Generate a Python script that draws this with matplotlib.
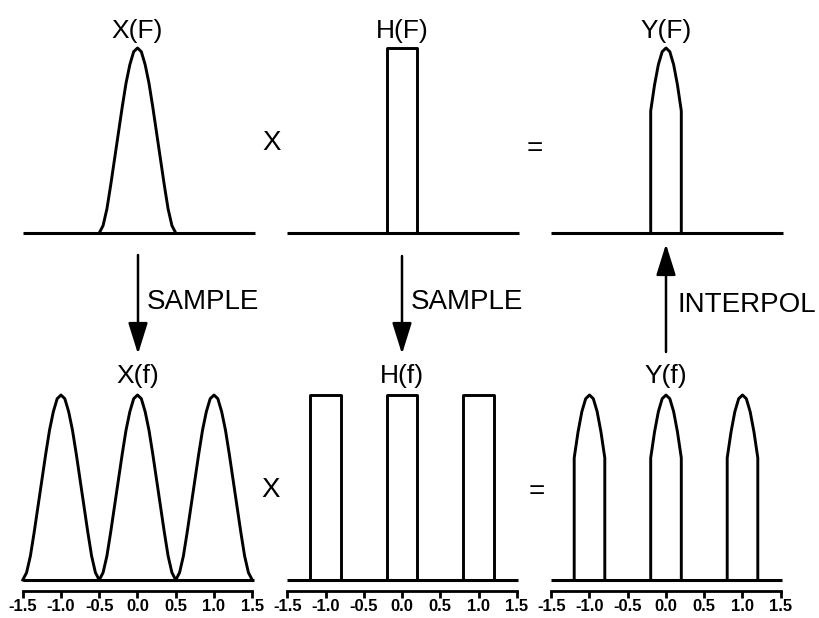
import numpy as np
import matplotlib
matplotlib.use("Agg")
import matplotlib.pyplot as plt

plt.rcParams['font.family'] = ['Liberation Sans', 'DejaVu Sans']

# Spectrum shapes (frequency, amplitude)
pulse_f = [-0.5, -0.45, -0.4, -0.35, -0.3, -0.25, -0.2, -0.15, -0.1, -0.05, 0.0,
           0.05, 0.1, 0.15, 0.2, 0.25, 0.3, 0.35, 0.4, 0.45, 0.5]
pulse_x = [0.0, 0.04, 0.13, 0.26, 0.40, 0.54, 0.68, 0.81, 0.91, 0.98, 1.0,
           0.98, 0.91, 0.81, 0.68, 0.54, 0.40, 0.26, 0.13, 0.04, 0.0]

rect_f = [-0.2, -0.2, 0.2, 0.2]
rect_h = [0.0, 1.0, 1.0, 0.0]

prod_f = [-0.2, -0.2, -0.15, -0.1, -0.05, 0.0, 0.05, 0.1, 0.15, 0.2, 0.2]
prod_y = [0.0, 0.66, 0.80, 0.91, 0.98, 1.0, 0.98, 0.91, 0.80, 0.66, 0.0]

# sampled spectra repeat with period 1
periods = [-1.0, 0.0, 1.0]
tick_vals = [-1.5, -1.0, -0.5, 0.0, 0.5, 1.0, 1.5]
tick_labels = ['-1.5', '-1.0', '-0.5', '0.0', '0.5', '1.0', '1.5']

top_titles = ['X(F)', 'H(F)', 'Y(F)']
bottom_titles = ['X(f)', 'H(f)', 'Y(f)']
shapes = [(pulse_f, pulse_x), (rect_f, rect_h), (prod_f, prod_y)]

W, H = 820, 618
fig = plt.figure(figsize=(W / 100, H / 100), dpi=100)

col_centers = [137.5, 402, 666]
px_per_unit = 76.5
xlim = (-1.6, 1.6)
ylim = (-0.1, 1.15)
py_per_unit = 185


def make_axes(cx, baseline_px):
    left = cx + xlim[0] * px_per_unit
    width = (xlim[1] - xlim[0]) * px_per_unit
    bottom = baseline_px - ylim[0] * py_per_unit
    height = (ylim[1] - ylim[0]) * py_per_unit
    ax = fig.add_axes([left / W, 1 - bottom / H, width / W, height / H])
    ax.set_xlim(*xlim)
    ax.set_ylim(*ylim)
    for s in ['top', 'right', 'left', 'bottom']:
        ax.spines[s].set_visible(False)
    ax.set_xticks([])
    ax.set_yticks([])
    ax.patch.set_alpha(0)
    return ax


lw = 2.1
for i, cx in enumerate(col_centers):
    f, a = shapes[i]

    # continuous spectra (top row)
    ax = make_axes(cx, 233)
    ax.plot(f, a, color='black', lw=lw, solid_joinstyle='round')
    ax.hlines(0, -1.5, 1.53, color='black', lw=2.2)
    ax.text(0, 1.09, top_titles[i], ha='center', va='center', fontsize=19)

    # sampled spectra (bottom row)
    ax = make_axes(cx, 580)
    for p in periods:
        ax.plot(np.add(f, p), a, color='black', lw=lw, solid_joinstyle='round')
    ax.hlines(0, -1.5, 1.52, color='black', lw=2.2)
    ax.text(0, 1.1, bottom_titles[i], ha='center', va='center', fontsize=19)
    ax.spines['bottom'].set_visible(True)
    ax.spines['bottom'].set_position(('data', -0.06))
    ax.spines['bottom'].set_bounds(-1.5, 1.5)
    ax.spines['bottom'].set_linewidth(2.0)
    ax.set_xticks(tick_vals)
    ax.set_xticklabels(tick_labels, fontsize=12, fontweight='bold')
    ax.tick_params(axis='x', direction='out', length=5, width=2.0, pad=1)

# operators between panels
for x, y, s in [(272, 143, 'X'), (535, 149, '='), (271, 490, 'X'), (537, 492, '=')]:
    fig.text(x / W, 1 - y / H, s, ha='center', va='center', fontsize=20)

# arrows and labels between rows
arrow_kw = dict(arrowstyle='-|>,head_length=0.8,head_width=0.25', lw=1.8,
                color='black', mutation_scale=24, shrinkA=0, shrinkB=0)
for x, y0, y1 in [(138, 255, 354), (402, 256, 354), (666, 352, 244)]:
    fig.patches.append(matplotlib.patches.FancyArrowPatch(
        (x / W, 1 - y0 / H), (x / W, 1 - y1 / H), transform=fig.transFigure, **arrow_kw))

fig.text(147 / W, 1 - 302 / H, 'SAMPLE', ha='left', va='center', fontsize=20)
fig.text(411 / W, 1 - 302 / H, 'SAMPLE', ha='left', va='center', fontsize=20)
fig.text(678 / W, 1 - 305 / H, 'INTERPOL', ha='left', va='center', fontsize=20)

fig.savefig('out.png', dpi=100)
plt.close(fig)
